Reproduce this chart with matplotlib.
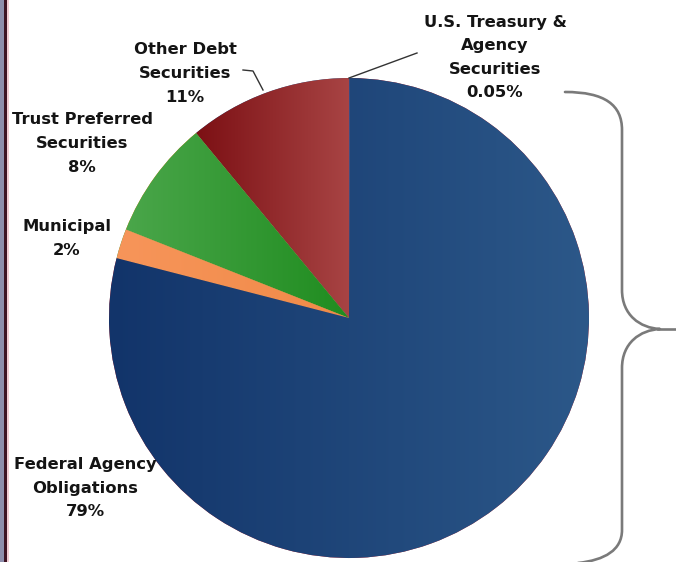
import numpy as np
import matplotlib
matplotlib.use("Agg")
import matplotlib.pyplot as plt
from matplotlib.colors import LinearSegmentedColormap
from matplotlib.path import Path
from matplotlib.patches import PathPatch, Rectangle

# portfolio composition, in percent
names = ["Other Debt\nSecurities", "Trust Preferred\nSecurities", "Municipal",
         "Federal Agency\nObligations", "U.S. Treasury &\nAgency\nSecurities"]
shares = [11, 8, 2, 79, 0.05]
# left/right shades of each slice
shade_left = ["#7c1014", "#4aa64a", "#f7955a", "#12346a", "#12346a"]
shade_right = ["#a84444", "#1f8c1f", "#f08a48", "#2c5889", "#2c5889"]

W, H = 676, 562
fig = plt.figure(figsize=(W / 100, H / 100), dpi=100)
ax = fig.add_axes([0, 0, 1, 1])
ax.set_xlim(0, W)
ax.set_ylim(0, H)
ax.set_aspect("equal")
ax.axis("off")


def py(y):
    # pixel rows counted from the top
    return H - y


cx, cy, r = 349, py(318), 240
wedges, _ = ax.pie(shares, startangle=90, counterclock=True, radius=r,
                   center=(cx, cy), frame=True,
                   wedgeprops=dict(linewidth=0, edgecolor="none"))
ax.set_xlim(0, W)
ax.set_ylim(0, H)
ax.axis("off")

# horizontal shading inside every slice
for w, c0, c1 in zip(wedges, shade_left, shade_right):
    t = np.radians(np.linspace(w.theta1, w.theta2, 200))
    xs = np.concatenate([[cx], cx + r * np.cos(t)])
    ys = np.concatenate([[cy], cy + r * np.sin(t)])
    cmap = LinearSegmentedColormap.from_list("s", [c0, c1])
    grad = np.linspace(0, 1, 256)[None, :]
    im = ax.imshow(grad, cmap=cmap, aspect="auto", interpolation="bilinear",
                   extent=[xs.min(), xs.max() + 1, ys.min(), ys.max()],
                   zorder=w.get_zorder() + 0.1)
    im.set_clip_path(w)
ax.set_xlim(0, W)
ax.set_ylim(0, H)

txt = dict(ha="center", va="center", fontsize=11.8, fontweight="bold",
           color="#141414", family="DejaVu Sans")


def label(lines, x, y0, step=23.5):
    for i, s in enumerate(lines):
        ax.text(x, py(y0 + i * step), s, **txt)


spots = [(185, 50), (82, 120), (67, 227), (85, 465), (495, 22)]
for n, v, (x, y) in zip(names, shares, spots):
    label(n.split("\n") + [f"{v:g}%"], x, y)

# leader lines
ax.plot([243, 253, 263], [py(70), py(71), py(90)], color="#333333", lw=1)
ax.plot([349, 417], [py(78), py(53)], color="#333333", lw=1)

# brace on the right
verts = [(565, 92), (605, 92), (622, 105), (622, 130),
         (622, 290),
         (622, 315), (640, 328), (660, 329),
         (640, 330), (622, 343), (622, 368),
         (622, 530),
         (622, 550), (605, 560), (578, 563)]
codes = [Path.MOVETO, Path.CURVE4, Path.CURVE4, Path.CURVE4,
         Path.LINETO,
         Path.CURVE4, Path.CURVE4, Path.CURVE4,
         Path.CURVE4, Path.CURVE4, Path.CURVE4,
         Path.LINETO,
         Path.CURVE4, Path.CURVE4, Path.CURVE4]
brace = Path([(x, py(y)) for x, y in verts], codes)
ax.add_patch(PathPatch(brace, fill=False, edgecolor="#7a7a7a", lw=1.9,
                       capstyle="round", joinstyle="round"))
ax.plot([658, 677], [py(329), py(329)], color="#7a7a7a", lw=1.9)

# page edge on the left
ax.add_patch(Rectangle((0, 0), 4, H, facecolor="#8e8eac", edgecolor="none"))
ax.add_patch(Rectangle((4, 0), 3, H, facecolor="#3e1424", edgecolor="none"))
ax.add_patch(Rectangle((7, 0), 1.5, H, facecolor="#f2ccd4", edgecolor="none"))

fig.savefig("out.png", dpi=100)
